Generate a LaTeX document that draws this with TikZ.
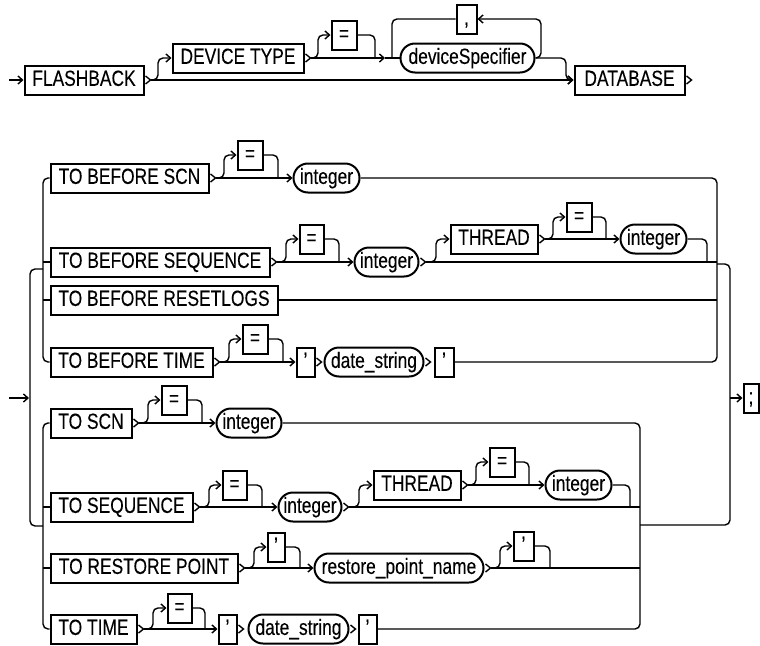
\documentclass[tikz,border=0pt]{standalone}
\usepackage{fontspec}
\setmainfont{Liberation Sans}[FakeStretch=0.79,FakeBold=0.2]
\usetikzlibrary{arrows.meta,shapes.misc}
\tikzset{
  rail/.style={line width=1.4pt, rounded corners=5pt},
  arr/.style={-{Straight Barb[length=4.5pt,width=8pt]}},
  box/.style={draw, line width=2pt, minimum height=29pt, inner xsep=1pt, inner ysep=0pt,
    text height=15.75pt, text depth=4pt, font=\fontsize{22}{24}\selectfont},
  kw/.style={box, rectangle},
  var/.style={box, rounded rectangle},
}
\newcommand\chev[1]{\draw[line width=1.4pt] ([shift={(1,-4)}]#1.east) -- ([xshift=6]#1.east) -- ([shift={(1,4)}]#1.east);}
\begin{document}
\begin{tikzpicture}[x=1pt,y=-1pt]
\useasboundingbox (0,0) rectangle (760,645);
% ---------- top statement ----------
\node[kw, minimum width=119] (fb) at (84,80) {FLASHBACK};
\node[kw, minimum width=131] (dt) at (238,58) {DEVICE TYPE};
\node[kw, minimum width=25] (eq1) at (344,35) {=};
\node[var, minimum width=136] (ds) at (467.5,58) {deviceSpecifier};
\node[kw, minimum width=20] (cm) at (466.5,19) {,};
\node[kw, minimum width=110] (db) at (629.5,80) {DATABASE};
\coordinate (s1) at (9,80);
\draw[rail,arr] (s1) -- (fb.west);
\chev{fb}
\draw[rail,arr] ([xshift=6]fb.east) -- (db.west);
\draw[rail,arr] ([xshift=6]fb.east) -| (158,58) -- (dt.west);
\chev{dt}
\draw[rail,arr] ([xshift=6]dt.east) -- (385,58);
\draw[rail] (385,58) -- (ds.west);
\draw[rail,arr] ([xshift=6]dt.east) -| (318,35) -- (eq1.west);
\draw[rail] (eq1.east) -| (375,58);
\draw[rail,arr] (ds.east) -| (541,19) -- (cm.east);
\draw[rail] (cm.west) -| (392,58);
\draw[rail,arr] (ds.east) -| (566,80) -- (db.west);
\chev{db}
% ---------- upper group ----------
\node[kw, minimum width=158] (a1) at (129.5,178) {TO BEFORE SCN};
\node[kw, minimum width=25] (a2) at (250,155) {=};
\node[var, minimum width=68] (a3) at (326.5,178) {integer};
\node[kw, minimum width=219] (b1) at (160,262) {TO BEFORE SEQUENCE};
\node[kw, minimum width=24] (b2) at (311.5,239) {=};
\node[var, minimum width=66] (b3) at (386.5,262) {integer};
\node[kw, minimum width=87] (b4) at (494,239) {THREAD};
\node[kw, minimum width=25] (b5) at (579,217) {=};
\node[var, minimum width=68] (b6) at (653.5,239) {integer};
\node[kw, minimum width=227] (c1) at (164,300) {TO BEFORE RESETLOGS};
\node[kw, minimum width=162] (d1) at (131.5,362) {TO BEFORE TIME};
\node[kw, minimum width=25] (d2) at (255,339) {=};
\node[kw, minimum width=18] (d3) at (305.5,362) {’};
\node[var, minimum width=101] (d4) at (374,362) {date\_string};
\node[kw, minimum width=19] (d5) at (444,362) {’};
% ---------- lower group ----------
\node[kw, minimum width=81] (e1) at (91,423) {TO SCN};
\node[kw, minimum width=25] (e2) at (174,400) {=};
\node[var, minimum width=67] (e3) at (249,423) {integer};
\node[kw, minimum width=142] (f1) at (121.5,507) {TO SEQUENCE};
\node[kw, minimum width=24] (f2) at (234.5,485) {=};
\node[var, minimum width=65] (f3) at (310,507) {integer};
\node[kw, minimum width=87] (f4) at (417,485) {THREAD};
\node[kw, minimum width=25] (f5) at (502,462) {=};
\node[var, minimum width=68] (f6) at (578.5,485) {integer};
\node[kw, minimum width=187] (g1) at (144,568) {TO RESTORE POINT};
\node[kw, minimum width=17] (g2) at (276,547) {’};
\node[var, minimum width=171] (g3) at (399,568) {restore\_point\_name};
\node[kw, minimum width=20] (g4) at (523.5,546) {’};
\node[kw, minimum width=86] (h1) at (93.5,629) {TO TIME};
\node[kw, minimum width=24] (h2) at (179.5,608) {=};
\node[kw, minimum width=18] (h3) at (227.5,629) {’};
\node[var, minimum width=102] (h4) at (298.5,629) {date\_string};
\node[kw, minimum width=18] (h5) at (367.5,629) {’};
\node[kw, minimum width=15] (semi) at (751,398) {;};
% entry and brackets
\coordinate (s2) at (9,398);
\draw[rail,arr] (s2) -- (29,398);
\draw[rail] (43,269) -| (30,526) -- (43,526);
\draw[rail] (a1.west) -| (43,362) -- (d1.west);
\draw[rail] (43,262) -- (b1.west);
\draw[rail] (43,300) -- (c1.west);
\draw[rail] (e1.west) -| (43,629) -- (h1.west);
\draw[rail] (43,507) -- (f1.west);
\draw[rail] (43,568) -- (g1.west);
% row A
\chev{a1}
\draw[rail,arr] ([xshift=6]a1.east) -- (a3.west);
\draw[rail,arr] ([xshift=6]a1.east) -| (224,155) -- (a2.west);
\draw[rail] (a2.east) -| (278,178);
\draw[rail] (a3.east) -| (717,362) -- (d5.east);
% row B
\chev{b1}
\draw[rail,arr] ([xshift=6]b1.east) -- (b3.west);
\draw[rail,arr] ([xshift=6]b1.east) -| (286,239) -- (b2.west);
\draw[rail] (b2.east) -| (339,262);
\chev{b3}
\draw[rail] ([xshift=6]b3.east) -- (717,262);
\draw[rail,arr] ([xshift=6]b3.east) -| (436,239) -- (b4.west);
\chev{b4}
\draw[rail,arr] ([xshift=6]b4.east) -- (b6.west);
\draw[rail,arr] ([xshift=6]b4.east) -| (553,217) -- (b5.west);
\draw[rail] (b5.east) -| (606,239);
\draw[rail] (b6.east) -| (707,262);
% row C
\draw[rail] (c1.east) -- (717,300);
% row D
\chev{d1}
\draw[rail,arr] ([xshift=6]d1.east) -- (d3.west);
\draw[rail,arr] ([xshift=6]d1.east) -| (229,339) -- (d2.west);
\draw[rail] (d2.east) -| (283,362);
\chev{d3}
\chev{d4}
% right outer bracket
\draw[rail] (717,264) -| (730,525) -- (640,525);
\draw[rail,arr] (730,398) -- (semi.west);
% row E
\chev{e1}
\draw[rail,arr] ([xshift=6]e1.east) -- (e3.west);
\draw[rail,arr] ([xshift=6]e1.east) -| (148,400) -- (e2.west);
\draw[rail] (e2.east) -| (202,423);
\draw[rail] (e3.east) -| (640,629) -- (h5.east);
% row F
\chev{f1}
\draw[rail,arr] ([xshift=6]f1.east) -- (f3.west);
\draw[rail,arr] ([xshift=6]f1.east) -| (209,485) -- (f2.west);
\draw[rail] (f2.east) -| (262,507);
\chev{f3}
\draw[rail] ([xshift=6]f3.east) -- (640,507);
\draw[rail,arr] ([xshift=6]f3.east) -| (359,485) -- (f4.west);
\chev{f4}
\draw[rail,arr] ([xshift=6]f4.east) -- (f6.west);
\draw[rail,arr] ([xshift=6]f4.east) -| (476,462) -- (f5.west);
\draw[rail] (f5.east) -| (529,485);
\draw[rail] (f6.east) -| (630,507);
% row G
\chev{g1}
\draw[rail,arr] ([xshift=6]g1.east) -- (g3.west);
\draw[rail,arr] ([xshift=6]g1.east) -| (254,547) -- (g2.west);
\draw[rail] (g2.east) -| (300,568);
\chev{g3}
\draw[rail] ([xshift=6]g3.east) -- (640,568);
\draw[rail,arr] ([xshift=6]g3.east) -| (500,546) -- (g4.west);
\draw[rail] (g4.east) -| (550,568);
% row H
\chev{h1}
\draw[rail,arr] ([xshift=6]h1.east) -- (h3.west);
\draw[rail,arr] ([xshift=6]h1.east) -| (153,608) -- (h2.west);
\draw[rail] (h2.east) -| (205,629);
\chev{h3}
\chev{h4}
\end{tikzpicture}
\end{document}
